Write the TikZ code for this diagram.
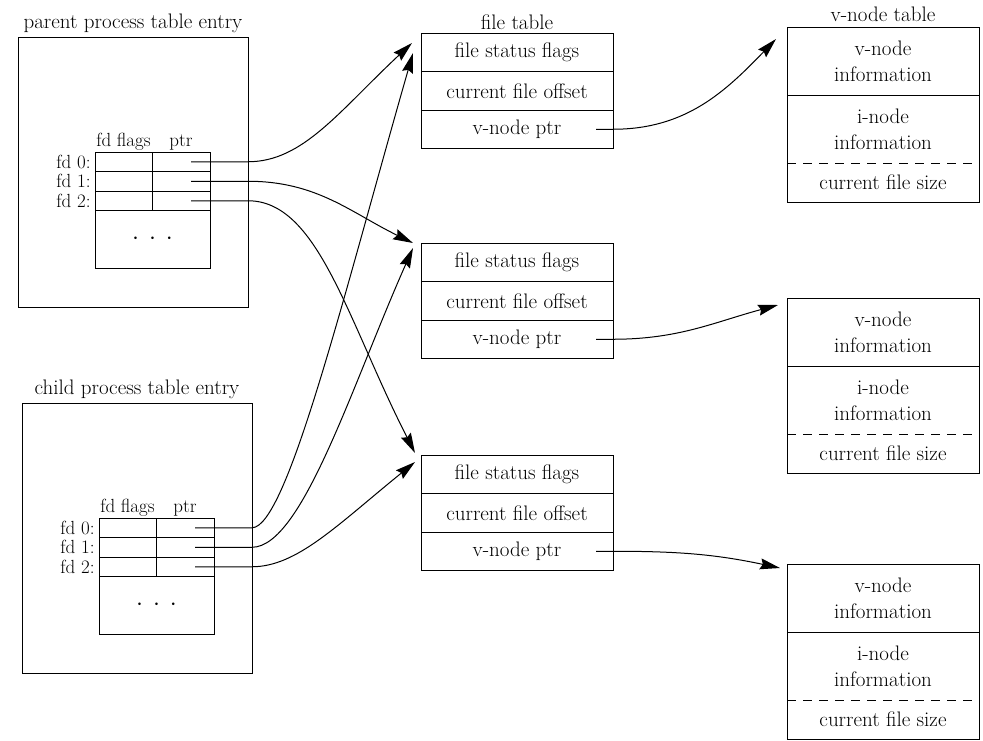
\documentclass[tikz,border=0pt]{standalone}
\usetikzlibrary{positioning,arrows.meta}

% process table entry: name, title, top left corner
\newcommand{\proctable}[4]{%
    \node[procbox, label={above:#2}] (#1) at (#3,#4) {};
    \node[fdcell, below right=115pt and 77pt of #1.north west] (#1f0) {};
    \node[fdcell, below=0pt of #1f0] (#1f1) {};
    \node[fdcell, below=0pt of #1f1] (#1f2) {};
    \foreach \r in {0,1,2} {
        \node[ptrcell, right=0pt of #1f\r] (#1p\r) {};
        \node[fdlabel, left=3pt of #1f\r] {fd \r:};
    }
    \node[dotcell, below=0pt of #1f2.south west, anchor=north west] (#1dots) {$\cdot$\hspace{10pt}$\cdot$\hspace{10pt}$\cdot$};
    \node[head, above=0pt of #1f0] {fd flags};
    \node[head, above=0pt of #1p0] {ptr};
}

\begin{document}
\begin{tikzpicture}[x=1pt, y=1pt, line width=1pt, font=\fontsize{21}{26}\selectfont,
    procbox/.style={draw, anchor=north west, minimum width=230pt, minimum height=270pt, outer sep=0pt},
    fdcell/.style={draw, minimum width=57pt, minimum height=19.5pt, inner sep=0pt, outer sep=0pt},
    ptrcell/.style={fdcell, minimum width=58pt},
    dotcell/.style={draw, minimum width=115pt, minimum height=57.5pt, inner sep=0pt, outer sep=0pt,
        font=\fontsize{32}{32}\selectfont},
    fdlabel/.style={font=\fontsize{19}{22}\selectfont, inner sep=1pt},
    head/.style={font=\fontsize{19}{22}\selectfont, inner sep=1pt},
    filecell/.style={draw, minimum width=192pt, minimum height=38.5pt, inner sep=0pt, outer sep=0pt},
    vcell/.style={minimum width=192pt, minimum height=68pt, inner sep=0pt, outer sep=0pt, align=center},
    link/.style={-{Stealth[length=20pt, width=11pt, inset=2.5pt]}, line width=1pt}]

    \useasboundingbox (0,0) rectangle (983,-740);

    \proctable{parent}{parent process table entry}{18}{-37}
    \proctable{child}{child process table entry}{22}{-403}

    % file table and v-node table entries
    \foreach \i/\fy/\vy in {1/-33/-27, 2/-243/-298, 3/-455/-564} {
        \node[filecell, anchor=north west] (fts\i) at (421,\fy) {file status flags};
        \node[filecell, below=0pt of fts\i] (fto\i) {current file offset};
        \node[filecell, below=0pt of fto\i] (ftv\i) {v-node ptr};
        \node[vcell, anchor=north west] (vta\i) at (787,\vy) {v-node\\information};
        \node[vcell, below=0pt of vta\i] (vtb\i) {i-node\\information};
        \node[vcell, minimum height=39pt, below=0pt of vtb\i] (vtc\i) {current file size};
        \draw (vta\i.north west) rectangle (vtc\i.south east);
        \draw (vta\i.south west) -- (vta\i.south east);
        \draw[dash pattern=on 9pt off 7pt] (vtc\i.north west) -- (vtc\i.north east);
    }
    \node[above=0pt of fts1] {file table};
    \node[above=2pt of vta1] {v-node table};

    \coordinate (tp0) at ([shift={(-9,-10)}]fts1.north west);
    \coordinate (tc0) at ([shift={(-8,-20)}]fts1.north west);
    \coordinate (tp1) at ([shift={(-8,0)}]fts2.north west);
    \coordinate (tc1) at ([shift={(-8,-5)}]fts2.north west);
    \coordinate (tp2) at ([shift={(-6,2)}]fts3.north west);
    \coordinate (tc2) at ([shift={(-6,-7)}]fts3.north west);
    \coordinate (tv1) at ([shift={(-11,-12)}]vta1.north west);
    \coordinate (tv2) at ([shift={(-9,-7)}]vta2.north west);
    \coordinate (tv3) at ([shift={(-7,-4)}]vta3.north west);

    \draw[link] ([xshift=-19pt]parentp0.east) -- (parentp0.east -| parent.east)
        to[out=0, in=223, out distance=55pt, in distance=100pt] (tp0);
    \draw[link] ([xshift=-19pt]parentp1.east) -- (parentp1.east -| parent.east)
        to[out=0, in=154] (tp1);
    \draw[link] ([xshift=-19pt]parentp2.east) -- (parentp2.east -| parent.east)
        to[out=0, in=117, out distance=70pt, in distance=150pt] (tp2);
    \draw[link] ([xshift=-19pt]childp0.east) -- (childp0.east -| child.east)
        to[out=0, in=254, out distance=35pt, in distance=250pt] (tc0);
    \draw[link] ([xshift=-19pt]childp1.east) -- (childp1.east -| child.east)
        to[out=0, in=246, out distance=50pt, in distance=150pt] (tc1);
    \draw[link] ([xshift=-19pt]childp2.east) -- (childp2.east -| child.east)
        to[out=0, in=219, out distance=45pt, in distance=100pt] (tc2);

    \draw[link] ([xshift=-17pt]ftv1.east) -- (ftv1.east) to[out=0, in=226] (tv1);
    \draw[link] ([xshift=-17pt]ftv2.east) -- (ftv2.east) to[out=0, in=195] (tv2);
    \draw[link] ([xshift=-17pt]ftv3.east) -- (ftv3.east) to[out=0, in=168] (tv3);
\end{tikzpicture}
\end{document}
